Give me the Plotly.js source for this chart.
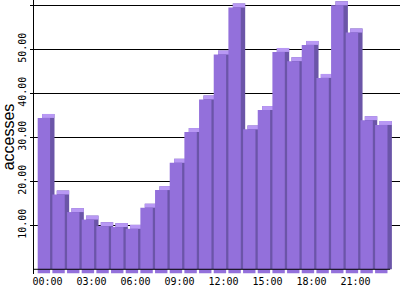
<!DOCTYPE html>
<html>
<head>
<meta charset="utf-8">
<script src="https://cdn.plot.ly/plotly-3.0.1.min.js"></script>
<style>html,body{margin:0;padding:0;background:#fff;}#chart{width:400px;height:300px;}</style>
</head>
<body>
<div id="chart"></div>
<script>
const hours = ["00:00","01:00","02:00","03:00","04:00","05:00","06:00","07:00","08:00","09:00","10:00","11:00",
               "12:00","13:00","14:00","15:00","16:00","17:00","18:00","19:00","20:00","21:00","22:00","23:00"];
const accesses = [34.4, 17.0, 13.0, 11.3, 9.8, 9.6, 9.2, 14.0, 18.0, 24.2, 31.2, 38.6,
                  48.8, 59.5, 31.8, 36.2, 49.4, 47.3, 51.0, 43.5, 60.0, 53.8, 33.9, 32.8];
const tickHours = ["00:00","03:00","06:00","09:00","12:00","15:00","18:00","21:00"];
const yTicks = [10, 20, 30, 40, 50, 60];
const yTickText = ["10.00","20.00","30.00","40.00","50.00",""];

const idx = hours.map((h, i) => i);
const depthY = 0.9;   // 3D depth in data units (vertical)
const depthX = 0.3;   // 3D depth in category units (horizontal)
const frontOff = -0.668, frontW = 0.845;

const sideTrace = {
  type: 'bar', x: idx, y: accesses.map(v => v + depthY), base: 0,
  offset: frontOff + depthX, width: frontW,
  marker: {color: '#6b55a8', line: {width: 0}}, hoverinfo: 'skip', showlegend: false
};
const topTrace = {
  type: 'bar', x: idx, y: accesses.map(() => depthY), base: accesses,
  offset: frontOff + depthX, width: frontW,
  marker: {color: '#b898f4', line: {width: 0}}, hoverinfo: 'skip', showlegend: false
};
const frontTrace = {
  type: 'bar', x: idx, y: accesses.map(v => v + depthY), base: -depthY,
  offset: frontOff, width: frontW,
  marker: {color: '#9370db', line: {width: 0}}, hoverinfo: 'skip', showlegend: false
};

const tickIdx = tickHours.map(h => hours.indexOf(h));

const layout = {
  width: 400, height: 300,
  margin: {l: 34, r: 0, t: 0, b: 26, pad: 0},
  paper_bgcolor: '#fff', plot_bgcolor: '#fff',
  barmode: 'overlay',
  showlegend: false,
  font: {family: 'DejaVu Sans Mono, monospace', size: 10, color: '#000'},
  xaxis: {
    range: [-0.92, 24.03], tickvals: tickIdx, ticktext: tickHours,
    showgrid: false, zeroline: false, showline: false, ticks: '',
    tickfont: {family: 'DejaVu Sans Mono, monospace', size: 10, color: '#000'},
    fixedrange: true
  },
  yaxis: {
    range: [-1.07, 61.2], tickvals: yTicks, ticktext: yTickText,
    tickangle: -90, ticks: 'outside', ticklen: 3, tickcolor: '#000', tickwidth: 1,
    showgrid: true, gridcolor: '#000', gridwidth: 1,
    zeroline: false, showline: true, linecolor: '#000', linewidth: 1,
    tickfont: {family: 'DejaVu Sans Mono, monospace', size: 10, color: '#000'},
    title: {text: 'accesses', font: {family: 'Liberation Sans, sans-serif', size: 16, color: '#000'}, standoff: 4},
    fixedrange: true
  },
  shapes: [{
    type: 'line', xref: 'paper', yref: 'y', x0: 0, x1: 0.973, y0: 0, y1: 0,
    line: {color: '#000', width: 1}, layer: 'above'
  }]
};

Plotly.newPlot('chart', [sideTrace, topTrace, frontTrace], layout, {staticPlot: true, displayModeBar: false});
</script>
</body>
</html>
